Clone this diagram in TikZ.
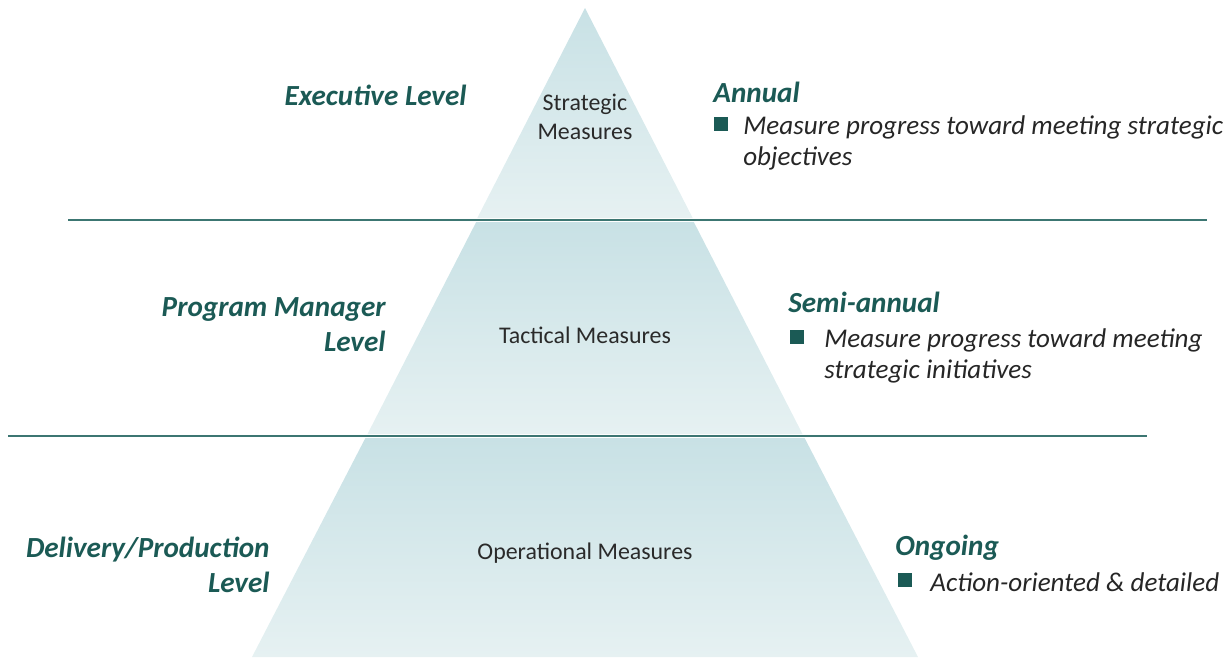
\documentclass[tikz,border=0pt]{standalone}
\usepackage{fontspec}
\setmainfont{Carlito}
\setsansfont{Carlito}
\usetikzlibrary{positioning}
\definecolor{levteal}{HTML}{1B5A55}
\definecolor{rulteal}{HTML}{3C7672}
\definecolor{pyrtop}{HTML}{C8E1E5}
\definecolor{pyrbot}{HTML}{E6F1F2}
\definecolor{meastext}{HTML}{2A2A2A}
\definecolor{bodytext}{HTML}{262626}
\begin{document}
\begin{tikzpicture}[x=0.02cm, y=-0.02cm]

	\tikzstyle{level}=[inner sep=0pt, text=levteal, font=\fontsize{16.6}{19.8}\selectfont\bfseries\itshape]
	\tikzstyle{period}=[inner sep=0pt, anchor=west, text=levteal, font=\fontsize{16.6}{19.8}\selectfont\bfseries\itshape]
	\tikzstyle{measure}=[inner sep=0pt, align=center, text=meastext, font=\fontsize{13.6}{16.4}\selectfont]
	\tikzstyle{bulletbox}=[rectangle, fill=levteal, minimum size=0.28cm, inner sep=0pt]
	\tikzstyle{bullettext}=[inner sep=0pt, anchor=north west, align=left, text=bodytext, font=\fontsize{15.4}{18.1}\selectfont\itshape]
	\tikzstyle{band}=[top color=pyrtop, bottom color=pyrbot]
	\tikzstyle{sep}=[draw=rulteal, line width=0.9pt]

	\useasboundingbox (0,0) rectangle (1231,657);

	% pyramide
	\shade[band] (585,8) -- (692.7,218) -- (477.3,218) -- cycle;
	\shade[band] (476.2,222) -- (693.8,222) -- (802.5,434) -- (367.5,434) -- cycle;
	\shade[band] (365.4,438) -- (804.6,438) -- (918,657) -- (252,657) -- cycle;

	% separations
	\draw[sep] (68,220) -- (1207,220);
	\draw[sep] (8,436) -- (1147,436);

	% placement des noeuds
	\node[measure] (strat) at (585,117) {Strategic\\Measures};
	\node[measure] (tact) at (585,335) {Tactical Measures};
	\node[measure] (oper) at (585,553) {Operational Measures};

	\node[level, anchor=east] (exec) at (467,95) {Executive Level};
	\node[level, anchor=east, align=right] (prog) at (386,325) {Program Manager\\Level};
	\node[level, anchor=east, align=right] (deliv) at (270,565) {Delivery/Production\\Level};

	\node[period] (annual) at (713,92) {Annual};
	\node[bulletbox] (b1) at (721,124) {};
	\node[bullettext] (t1) at (743,115) {Measure progress toward meeting strategic\\objectives};

	\node[period] (semi) at (788,302) {Semi-annual};
	\node[bulletbox] (b2) at (797,337) {};
	\node[bullettext] (t2) at (824,328) {Measure progress toward meeting\\strategic initiatives};

	\node[period] (ongo) at (895,548) {Ongoing};
	\node[bulletbox] (b3) at (905,580) {};
	\node[bullettext] (t3) at (930,572) {Action-oriented \& detailed};

\end{tikzpicture}
\end{document}
